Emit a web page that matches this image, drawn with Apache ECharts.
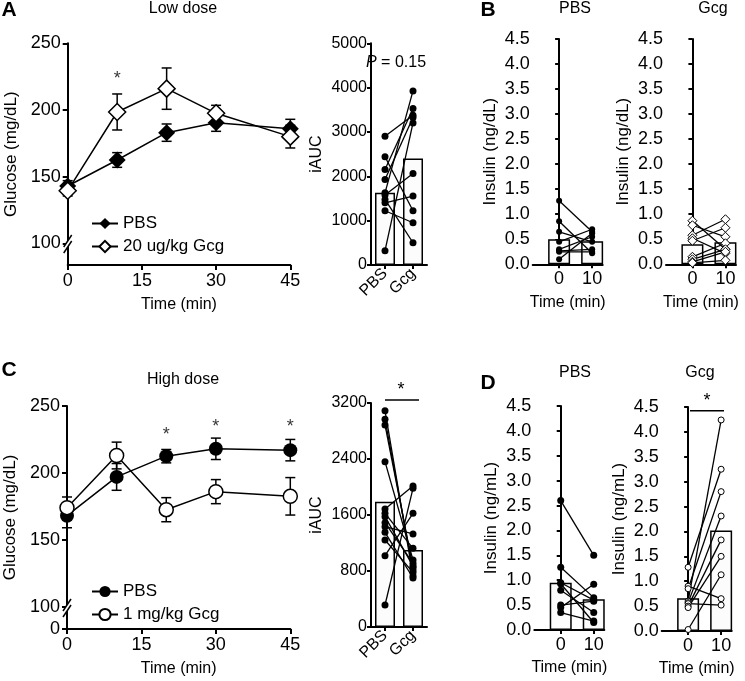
<!DOCTYPE html>
<html>
<head>
<meta charset="utf-8">
<script src="https://cdn.jsdelivr.net/npm/echarts@6/dist/echarts.min.js"></script>
<style>
html, body { margin: 0; padding: 0; background: #fff; }
#main { width: 745px; height: 681px; }
</style>
</head>
<body>
<div id="main"></div>
<script>
const FONT = '"Liberation Sans", Arial, sans-serif';

// glucose time course
const timePoints = [0, 10, 20, 30, 45];
const lowPbsMean = [143, 162.5, 183, 190.5, 186];
const lowPbsSem = [4, 5.5, 6.5, 6.5, 7];
const lowGcgMean = [139.5, 198.5, 216, 197.5, 180];
const lowGcgSem = [4, 13.5, 15.5, 6, 8.5];
const lowStars = [[10, 223]];
const highPbsMean = [168, 197, 212.5, 218, 217];
const highPbsSem = [9, 10, 5, 8, 8];
const highGcgMean = [174, 213, 172.5, 186, 182.5];
const highGcgSem = [8, 10, 9, 9, 14];
const highStars = [[20, 228], [30, 234], [45, 234]];

// iAUC
const aucGroups = ['PBS', 'Gcg'];
const lowAucBar = [1630, 2400];
const lowAucPbs = [2905, 2440, 2155, 1930, 1628, 1577, 1480, 1403, 1223, 322];
const lowAucGcg = [3378, 1223, 3529, 3326, 3926, 2065, 502, 1554, 953, 3205];
const highAucBar = [1790, 1100];
const highAucPbs = [3090, 2967, 2886, 2362, 1686, 1624, 1576, 1490, 1433, 1352, 1243, 1019, 314];
const highAucGcg = [729, 814, 852, 957, 2014, 1124, 870, 910, 1329, 700, 780, 1624, 1981];

// insulin, 0 and 10 min
const insTimes = [0, 10];
const insLowPbsBar = [0.5, 0.46];
const insLowPbs0 = [1.27, 0.86, 0.65, 0.45, 0.30, 0.27, 0.25, 0.10];
const insLowPbs10 = [0.65, 0.22, 0.45, 0.70, 0.55, 0.30, 0.25, 0.62];
const insLowGcgBar = [0.4, 0.44];
const insLowGcg0 = [0.87, 0.78, 0.58, 0.52, 0.47, 0.15, 0.10, 0.05, 0.03];
const insLowGcg10 = [0.30, 0.55, 0.90, 0.22, 0.73, 0.42, 0.30, 0.25, 0.08];
const insHighPbsBar = [0.95, 0.62];
const insHighPbs0 = [2.60, 1.26, 0.95, 0.93, 0.80, 0.50, 0.45, 0.35];
const insHighPbs10 = [1.50, 0.65, 0.60, 0.15, 0.35, 0.58, 0.92, 0.18];
const insHighGcgBar = [0.66, 2.02];
const insHighGcg0 = [1.28, 0.90, 0.85, 0.60, 0.57, 0.55, 0.50, 0.47, 0.03];
const insHighGcg10 = [3.25, 0.65, 2.80, 4.24, 2.31, 0.52, 1.83, 1.50, 1.13];

const chart = echarts.init(document.getElementById('main'));

const axisLine = { show: true, lineStyle: { color: '#000', width: 2 } };
const tick = len => ({ show: true, length: len, lineStyle: { color: '#000', width: 2 } });
const lbl = (size, margin) => ({ color: '#000', fontSize: size, fontFamily: FONT, margin });
const nameStyle = size => ({ color: '#000', fontSize: size, fontFamily: FONT });

// grids: A line, A auc, B pbs, B gcg, C line, C auc, D pbs, D gcg
const grids = [
    [67.7, 43.3, 222.6, 221.7],
    [371, 43.3, 56, 221.7],
    [532.7, 39, 70, 225.3],
    [666, 39, 70, 225.3],
    [67, 406, 223.3, 223],
    [371, 403, 56, 224],
    [534.3, 406, 70, 224],
    [661.7, 407, 70, 224]
].map(g => ({ left: g[0], top: g[1], width: g[2], height: g[3], containLabel: false }));

const timeX = idx => ({
    type: 'value', gridIndex: idx, min: 0, max: 45, interval: 15,
    axisLine, axisTick: tick(5), splitLine: { show: false },
    axisLabel: lbl(18, 7),
    name: 'Time (min)', nameLocation: 'middle', nameGap: 32, nameTextStyle: nameStyle(16)
});
const glucoseY = (idx, min, withZero) => ({
    type: 'value', gridIndex: idx, min, max: 250,
    axisLine, axisTick: Object.assign(tick(5), { customValues: withZero ? [min, 100, 150, 200, 250] : [100, 150, 200, 250] }),
    splitLine: { show: false },
    axisLabel: Object.assign(lbl(18, 7), {
        customValues: withZero ? [min, 100, 150, 200, 250] : [100, 150, 200, 250],
        formatter: v => (v < 90 ? '0' : String(v))
    }),
    name: 'Glucose (mg/dL)', nameLocation: 'middle', nameGap: 48, nameTextStyle: nameStyle(17)
});
const aucX = idx => ({
    type: 'category', gridIndex: idx, data: aucGroups,
    axisLine, axisTick: Object.assign(tick(4), { alignWithLabel: true }),
    axisLabel: Object.assign(lbl(16, 6), { rotate: 45, interval: 0, hideOverlap: false })
});
const aucY = (idx, max, interval) => ({
    type: 'value', gridIndex: idx, min: 0, max, interval,
    axisLine, axisTick: tick(4), splitLine: { show: false },
    axisLabel: Object.assign(lbl(16, 4), { formatter: v => String(v) }),
    name: 'iAUC', nameLocation: 'middle', nameGap: 46, nameTextStyle: nameStyle(16)
});
const insX = idx => ({
    type: 'value', gridIndex: idx, min: -8, max: 13.2,
    axisLine, axisTick: Object.assign(tick(4), { customValues: insTimes }),
    splitLine: { show: false },
    axisLabel: Object.assign(lbl(18, 6), { customValues: insTimes }),
    name: 'Time (min)', nameLocation: 'middle', nameGap: 30, nameTextStyle: nameStyle(16)
});
const insY = (idx, unit) => ({
    type: 'value', gridIndex: idx, min: 0, max: 4.5, interval: 0.5,
    axisLine, axisTick: tick(4), splitLine: { show: false },
    axisLabel: Object.assign(lbl(18, 3), { formatter: v => v.toFixed(1) }),
    name: 'Insulin (' + unit + ')', nameLocation: 'middle', nameGap: 34, nameTextStyle: nameStyle(17)
});

const filled = { color: '#000' };
const open = { color: '#fff', borderColor: '#000', borderWidth: 1.5 };

const meanLine = (name, idx, mean, symbol, size, style) => ({
    name, type: 'line', xAxisIndex: idx, yAxisIndex: idx,
    data: timePoints.map((t, i) => [t, mean[i]]),
    symbol, symbolSize: size, z: 4,
    lineStyle: { color: '#000', width: 1.5 }, itemStyle: style
});

const errBars = (idx, mean, sem) => ({
    type: 'custom', xAxisIndex: idx, yAxisIndex: idx, z: 3,
    data: timePoints.map((t, i) => [t, mean[i] - sem[i], mean[i] + sem[i]]),
    encode: { x: 0, y: [1, 2] },
    renderItem: (params, api) => {
        const lo = api.coord([api.value(0), api.value(1)]);
        const hi = api.coord([api.value(0), api.value(2)]);
        const w = 5;
        const st = { stroke: '#000', lineWidth: 1.5 };
        return {
            type: 'group', children: [
                { type: 'line', shape: { x1: lo[0], y1: lo[1], x2: hi[0], y2: hi[1] }, style: st },
                { type: 'line', shape: { x1: lo[0] - w, y1: lo[1], x2: lo[0] + w, y2: lo[1] }, style: st },
                { type: 'line', shape: { x1: hi[0] - w, y1: hi[1], x2: hi[0] + w, y2: hi[1] }, style: st }
            ]
        };
    }
});

const stars = (idx, pts) => ({
    type: 'scatter', xAxisIndex: idx, yAxisIndex: idx, data: pts,
    symbolSize: 0, silent: true,
    label: { show: true, position: 'inside', formatter: '*', fontSize: 18, fontFamily: FONT, color: '#000' }
});

const bars = (idx, xs, vals, width) => ({
    type: 'bar', xAxisIndex: idx, yAxisIndex: idx, barWidth: width, z: 1,
    data: xs.map((x, i) => [x, vals[i]]),
    itemStyle: { color: '#fcfcfc', borderColor: '#000', borderWidth: 1.5 }
});

const pairs = (idx, xs, a, b, symbol, size, style) => a.map((v, i) => ({
    type: 'line', xAxisIndex: idx, yAxisIndex: idx, z: 3,
    data: [[xs[0], v], [xs[1], b[i]]],
    symbol, symbolSize: size,
    lineStyle: { color: '#000', width: 1.3 }, itemStyle: style
}));

const openThin = { color: '#fff', borderColor: '#000', borderWidth: 1 };

const series = [
    errBars(0, lowPbsMean, lowPbsSem),
    errBars(0, lowGcgMean, lowGcgSem),
    meanLine('PBS', 0, lowPbsMean, 'diamond', 17, filled),
    meanLine('20 ug/kg Gcg', 0, lowGcgMean, 'diamond', 17, open),
    stars(0, lowStars),
    bars(1, aucGroups, lowAucBar, 20),
    ...pairs(1, aucGroups, lowAucPbs, lowAucGcg, 'circle', 7, filled),
    bars(2, insTimes, insLowPbsBar, 22),
    ...pairs(2, insTimes, insLowPbs0, insLowPbs10, 'circle', 6, filled),
    bars(3, insTimes, insLowGcgBar, 22),
    ...pairs(3, insTimes, insLowGcg0, insLowGcg10, 'diamond', 9, openThin),
    errBars(4, highPbsMean, highPbsSem),
    errBars(4, highGcgMean, highGcgSem),
    meanLine('PBS ', 4, highPbsMean, 'circle', 14, filled),
    meanLine('1 mg/kg Gcg', 4, highGcgMean, 'circle', 14, open),
    stars(4, highStars),
    bars(5, aucGroups, highAucBar, 20),
    ...pairs(5, aucGroups, highAucPbs, highAucGcg, 'circle', 7, filled),
    bars(6, insTimes, insHighPbsBar, 22),
    ...pairs(6, insTimes, insHighPbs0, insHighPbs10, 'circle', 7, filled),
    bars(7, insTimes, insHighGcgBar, 22),
    ...pairs(7, insTimes, insHighGcg0, insHighGcg10, 'circle', 6, openThin)
];

const txt = (x, y, text, size, extra) => ({
    type: 'text', x, y, z: 100,
    style: Object.assign({ text, fontSize: size, fontFamily: FONT, fill: '#000', align: 'center', verticalAlign: 'middle' }, extra || {})
});
const seg = (x1, y1, x2, y2) => ({
    type: 'line', z: 101, shape: { x1, y1, x2, y2 }, style: { stroke: '#000', lineWidth: 1.5 }
});
const axisBreak = (x, y) => [
    { type: 'polygon', z: 100, shape: { points: [[x - 4, y + 2], [x + 4, y - 10], [x + 4, y - 4], [x - 4, y + 8]] }, style: { fill: '#fff' } },
    seg(x - 4, y + 2, x + 4, y - 10),
    seg(x - 4, y + 8, x + 4, y - 4)
];

const graphic = [
    txt(9, 10, 'A', 21, { fontWeight: 'bold' }),
    txt(488, 10, 'B', 21, { fontWeight: 'bold' }),
    txt(9, 370, 'C', 21, { fontWeight: 'bold' }),
    txt(488, 383, 'D', 21, { fontWeight: 'bold' }),
    txt(183, 9, 'Low dose', 16),
    txt(183, 380, 'High dose', 16),
    txt(575, 9, 'PBS', 16),
    txt(713, 9, 'Gcg', 16),
    txt(575, 373, 'PBS', 16),
    txt(700, 373, 'Gcg', 16),
    txt(396, 63, '{i|P} = 0.15', 16, { rich: { i: { fontStyle: 'italic', fontSize: 16, fontFamily: FONT } } }),
    seg(385, 400, 419, 400),
    txt(401, 390, '*', 18),
    seg(690, 410.7, 724, 410.7),
    txt(707, 401, '*', 18),
    ...axisBreak(67.7, 245),
    ...axisBreak(67, 609)
];

const option = {
    animation: false,
    backgroundColor: '#fff',
    textStyle: { fontFamily: FONT },
    grid: grids,
    xAxis: [timeX(0), aucX(1), insX(2), insX(3), timeX(4), aucX(5), insX(6), insX(7)],
    yAxis: [glucoseY(0, 83.75, false), aucY(1, 5000, 1000), insY(2, 'ng/dL'), insY(3, 'ng/dL'),
        glucoseY(4, 83.33, true), aucY(5, 3200, 800), insY(6, 'ng/mL'), insY(7, 'ng/mL')],
    legend: [
        {
            data: ['PBS', '20 ug/kg Gcg'], left: 86, top: 210, orient: 'vertical',
            itemWidth: 26, itemHeight: 14, itemGap: 6, selectedMode: false,
            textStyle: { fontSize: 17, fontFamily: FONT, color: '#000' }
        },
        {
            data: ['PBS ', '1 mg/kg Gcg'], left: 86, top: 578, orient: 'vertical',
            itemWidth: 26, itemHeight: 14, itemGap: 6, selectedMode: false,
            formatter: n => n.trim(),
            textStyle: { fontSize: 17, fontFamily: FONT, color: '#000' }
        }
    ],
    graphic,
    series
};

chart.setOption(option);
</script>
</body>
</html>
